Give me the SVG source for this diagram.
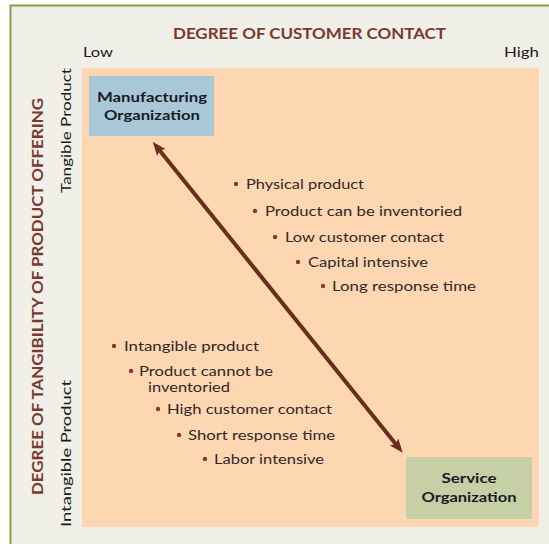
<svg xmlns="http://www.w3.org/2000/svg" width="549" height="544" viewBox="0 0 549 544">
  <style>
    .hdr { font-family: Lato, "Liberation Sans", sans-serif; font-weight: bold; fill: #7a3a2e; }
    .lbl { font-family: Lato, "Liberation Sans", sans-serif; font-size: 14px; fill: #221a1a; }
    .box { font-family: Lato, "Liberation Sans", sans-serif; font-weight: bold; font-size: 14px; fill: #1a1a26; text-anchor: middle; }
    .blt { font-family: Lato, "Liberation Sans", sans-serif; font-size: 14px; fill: #33262a; }
    .dot { fill: #8a3a2a; }
  </style>
  <defs>
    <marker id="ah" viewBox="0 0 14 11" markerWidth="14" markerHeight="11" refX="6" refY="5.5" orient="auto-start-reverse" markerUnits="userSpaceOnUse">
      <path d="M0,0 L14,5.5 L0,11 L3,5.5 z" fill="#6b2e1e"/>
    </marker>
  </defs>

  <g id="frame">
    <rect x="0" y="0" width="549" height="544" fill="#ffffff"/>
    <rect x="10.5" y="5.5" width="560" height="560" fill="#f0efe8" stroke="#8b9b48" stroke-width="2"/>
  </g>

  <g id="panel">
    <rect x="82" y="68" width="457" height="459" fill="#fdd7b2"/>
  </g>

  <g id="axis-top">
    <text class="hdr" x="173" y="39" font-size="16" textLength="273" lengthAdjust="spacingAndGlyphs">DEGREE OF CUSTOMER CONTACT</text>
    <text class="lbl" x="83" y="57" textLength="30" lengthAdjust="spacingAndGlyphs">Low</text>
    <text class="lbl" x="504" y="57" textLength="35" lengthAdjust="spacingAndGlyphs">High</text>
  </g>

  <g id="axis-left">
    <text class="hdr" transform="translate(43,495) rotate(-90)" x="0" y="0" font-size="15" textLength="397" lengthAdjust="spacingAndGlyphs">DEGREE OF TANGIBILITY OF PRODUCT OFFERING</text>
    <text class="lbl" transform="translate(71,193) rotate(-90)" x="0" y="0" font-size="15" textLength="125" lengthAdjust="spacingAndGlyphs">Tangible Product</text>
    <text class="lbl" transform="translate(71,527) rotate(-90)" x="0" y="0" font-size="15" textLength="147" lengthAdjust="spacingAndGlyphs">Intangible Product</text>
  </g>

  <g id="manufacturing">
    <rect x="89" y="76" width="125" height="60" fill="#a8c8d8"/>
    <text class="box" x="152" y="102" textLength="110" lengthAdjust="spacingAndGlyphs">Manufacturing</text>
    <text class="box" x="152" y="120" textLength="96" lengthAdjust="spacingAndGlyphs">Organization</text>
  </g>

  <g id="service">
    <rect x="406" y="457" width="126" height="62" fill="#c6cfa6"/>
    <text class="box" x="469" y="483" textLength="55" lengthAdjust="spacingAndGlyphs">Service</text>
    <text class="box" x="469" y="502" textLength="95" lengthAdjust="spacingAndGlyphs">Organization</text>
  </g>

  <g id="connectors">
    <line x1="157.7" y1="147.9" x2="397.7" y2="446.5" stroke="#6b2e1e" stroke-width="4" marker-start="url(#ah)" marker-end="url(#ah)"/>
  </g>

  <g id="tangible-traits">
    <circle class="dot" cx="236" cy="184" r="2.2"/>
    <text class="blt" x="246" y="189" textLength="118" lengthAdjust="spacingAndGlyphs">Physical product</text>
    <circle class="dot" cx="255" cy="211" r="2.2"/>
    <text class="blt" x="265" y="216" textLength="197" lengthAdjust="spacingAndGlyphs">Product can be inventoried</text>
    <circle class="dot" cx="275" cy="237" r="2.2"/>
    <text class="blt" x="285" y="242" textLength="159" lengthAdjust="spacingAndGlyphs">Low customer contact</text>
    <circle class="dot" cx="298" cy="262" r="2.2"/>
    <text class="blt" x="308" y="267" textLength="120" lengthAdjust="spacingAndGlyphs">Capital intensive</text>
    <circle class="dot" cx="323" cy="286" r="2.2"/>
    <text class="blt" x="332" y="291" textLength="144" lengthAdjust="spacingAndGlyphs">Long response time</text>
  </g>

  <g id="intangible-traits">
    <circle class="dot" cx="114" cy="346" r="2.2"/>
    <text class="blt" x="124" y="351" textLength="135" lengthAdjust="spacingAndGlyphs">Intangible product</text>
    <circle class="dot" cx="131" cy="371" r="2.2"/>
    <text class="blt" x="139" y="376" textLength="134" lengthAdjust="spacingAndGlyphs">Product cannot be</text>
    <text class="blt" x="148" y="392" textLength="82" lengthAdjust="spacingAndGlyphs">inventoried</text>
    <circle class="dot" cx="158" cy="409" r="2.2"/>
    <text class="blt" x="167" y="414" textLength="165" lengthAdjust="spacingAndGlyphs">High customer contact</text>
    <circle class="dot" cx="179" cy="435" r="2.2"/>
    <text class="blt" x="188" y="440" textLength="147" lengthAdjust="spacingAndGlyphs">Short response time</text>
    <circle class="dot" cx="205" cy="459" r="2.2"/>
    <text class="blt" x="214" y="464" textLength="110" lengthAdjust="spacingAndGlyphs">Labor intensive</text>
  </g>
</svg>
